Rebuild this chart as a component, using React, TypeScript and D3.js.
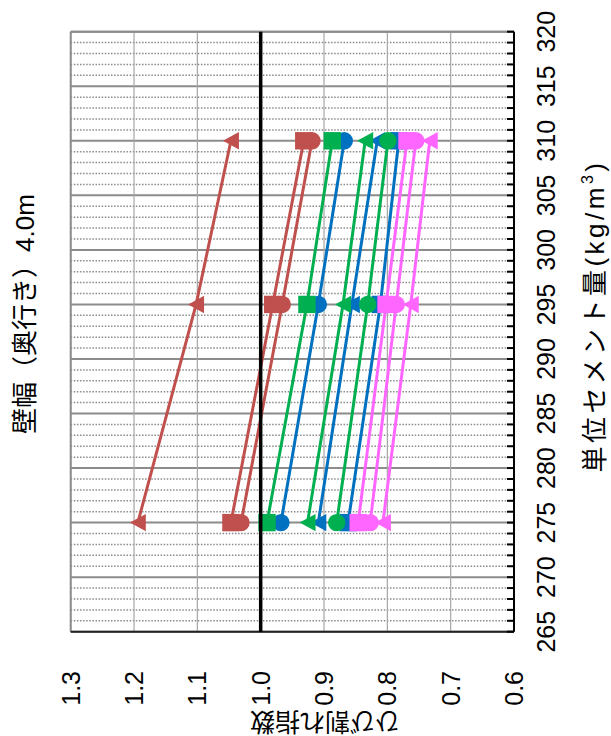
import React from 'react';
import * as d3 from 'd3';

// ---- data ----
const cement = [275, 295, 310];
const redTriangle = [1.194, 1.102, 1.047];
const redSquare = [1.047, 0.981, 0.932];
const redCircle = [1.031, 0.966, 0.919];
const greenSquare = [0.99, 0.927, 0.887];
const blueCircle = [0.968, 0.909, 0.868];
const greenTriangle = [0.926, 0.87, 0.835];
const blueTriangle = [0.909, 0.856, 0.816];
const greenCircle = [0.88, 0.831, 0.799];
const blueSquare = [0.862, 0.811, 0.782];
const magentaSquare = [0.846, 0.802, 0.769];
const magentaCircle = [0.827, 0.786, 0.755];
const magentaTriangle = [0.807, 0.763, 0.733];

const xMajorTicks = [265, 270, 275, 280, 285, 290, 295, 300, 305, 310, 315, 320];
const yTicks = [0.6, 0.7, 0.8, 0.9, 1.0, 1.1, 1.2, 1.3];
const yTickLabels = ['0.6', '0.7', '0.8', '0.9', '1.0', '1.1', '1.2', '1.3'];

const title = '壁幅（奥行き）4.0m';
const xTitle = '単位セメント量(kg/m';
const yTitle = 'ひび割れ指数';

const RED = '#C0504D';
const GREEN = '#00B050';
const BLUE = '#0070C0';
const MAGENTA = '#FF66FF';

const series = [
  { values: blueCircle, color: BLUE, shape: 'circle' },
  { values: blueTriangle, color: BLUE, shape: 'triangle' },
  { values: blueSquare, color: BLUE, shape: 'square' },
  { values: greenCircle, color: GREEN, shape: 'circle' },
  { values: greenTriangle, color: GREEN, shape: 'triangle' },
  { values: greenSquare, color: GREEN, shape: 'square' },
  { values: redCircle, color: RED, shape: 'circle' },
  { values: redTriangle, color: RED, shape: 'triangle' },
  { values: redSquare, color: RED, shape: 'square' },
  { values: magentaCircle, color: MAGENTA, shape: 'circle' },
  { values: magentaTriangle, color: MAGENTA, shape: 'triangle' },
  { values: magentaSquare, color: MAGENTA, shape: 'square' },
];

// original (unrotated) frame: 736 wide x 611 tall, then rotated -90deg
const OW = 736;
const L = 104.3, R = 704.3, T = 70.7, B = 514;
const FONT = "'Liberation Sans', Arial, 'Noto Sans CJK JP', sans-serif";

export default function App() {
  const x = d3.scaleLinear().domain([265, 320]).range([L, R]);
  const y = d3.scaleLinear().domain([0.6, 1.3]).range([B, T]);
  const line = d3
    .line<number>()
    .x((_, i) => x(cement[i]))
    .y((d) => y(d));
  const minor = d3.range(266, 320).filter((v) => v % 5 !== 0);
  const allTicks = d3.range(265, 321);

  const marker = (shape: string, cx: number, cy: number, color: string, key: string) => {
    if (shape === 'circle') return <circle key={key} cx={cx} cy={cy} r={8.7} fill={color} />;
    if (shape === 'square')
      return <rect key={key} x={cx - 8.7} y={cy - 8.7} width={17.4} height={17.4} fill={color} />;
    const p = `M${cx},${cy - 8} L${cx + 8.7},${cy + 8} L${cx - 8.7},${cy + 8} Z`;
    return <path key={key} d={p} fill={color} />;
  };

  return (
    <svg
      width={611}
      height={736}
      style={{ position: 'absolute', left: 0, top: 0, background: '#fff' }}
      fontFamily={FONT}
    >
      <rect x={0} y={0} width={611} height={736} fill="#fff" />
      <g transform={`translate(0,${OW}) rotate(-90)`}>
        {/* minor dotted gridlines */}
        {minor.map((v) => (
          <line key={'m' + v} x1={x(v)} x2={x(v)} y1={T} y2={B} stroke="#8a8a8a" strokeWidth={1.5} strokeDasharray="1.5 1.6" />
        ))}
        {/* major gridlines (cement) */}
        {xMajorTicks.map((v) => (
          <line key={'M' + v} x1={x(v)} x2={x(v)} y1={T} y2={B} stroke="#8c8c8c" strokeWidth={2} />
        ))}
        {/* value gridlines */}
        {yTicks.map((v) => (
          <line key={'y' + v} x1={L} x2={R} y1={y(v)} y2={y(v)} stroke="#a6a6a6" strokeWidth={1.2} />
        ))}
        {/* plot border */}
        <line x1={L} x2={R} y1={T} y2={T} stroke="#8c8c8c" strokeWidth={2} />
        <line x1={R} x2={R} y1={T} y2={B} stroke="#8c8c8c" strokeWidth={2} />
        <line x1={L} x2={L} y1={T} y2={B} stroke="#222" strokeWidth={2} />

        {/* series */}
        {series.map((s, si) => (
          <g key={'s' + si}>
            <path d={line(s.values) || ''} fill="none" stroke={s.color} strokeWidth={3} />
            {s.values.map((v, i) => marker(s.shape, x(cement[i]), y(v), s.color, `k${si}-${i}`))}
          </g>
        ))}

        {/* reference line at 1.0 */}
        <line x1={L} x2={R} y1={y(1.0)} y2={y(1.0)} stroke="#000" strokeWidth={3.5} />

        {/* x axis line & ticks */}
        <line x1={L} x2={R} y1={B} y2={B} stroke="#000" strokeWidth={2} />
        {allTicks.map((v) => (
          <line key={'t' + v} x1={x(v)} x2={x(v)} y1={B - 7} y2={B} stroke="#000" strokeWidth={2} />
        ))}

        {/* x tick labels */}
        {xMajorTicks.map((v) => (
          <text key={'xl' + v} x={x(v)} y={555} textAnchor="middle" fontSize={25} fill="#000">
            {v}
          </text>
        ))}
        {/* y tick labels */}
        {yTicks.map((v, i) => (
          <text key={'yl' + v} x={65} y={y(v) + 9} textAnchor="end" fontSize={25} fill="#000">
            {yTickLabels[i]}
          </text>
        ))}

        {/* titles */}
        <text x={422} y={34} textAnchor="middle" fontSize={26} fill="#000">
          {title}
        </text>
        <text x={420} y={604} textAnchor="middle" fontSize={26} letterSpacing={3.5} fill="#000">
          {xTitle}
          <tspan fontSize={16} dy={-11}>3</tspan>
          <tspan dy={11}>)</tspan>
        </text>
        <text
          transform="translate(14,325) rotate(-90)"
          textAnchor="middle"
          dominantBaseline="central"
          fontSize={25}
          fill="#000"
        >
          {yTitle}
        </text>
      </g>
    </svg>
  );
}
